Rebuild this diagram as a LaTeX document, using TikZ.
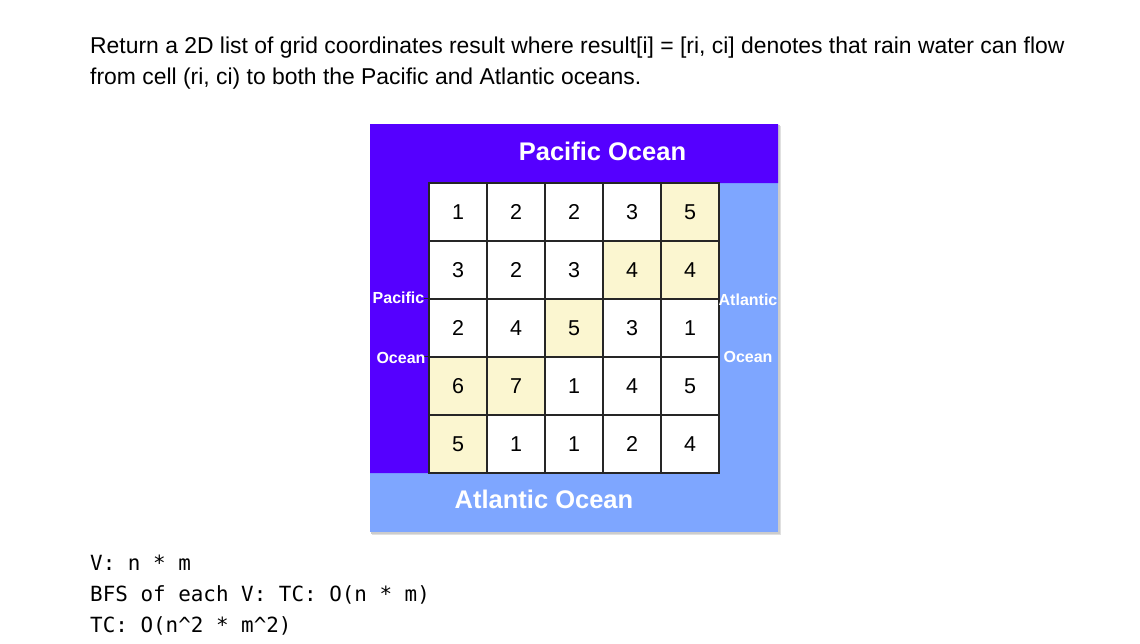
\documentclass[tikz,border=0pt]{standalone}
\usepackage{fontspec}
\setmainfont{Liberation Sans}
\newfontfamily\monof{DejaVu Sans Mono}
\definecolor{pac}{HTML}{5500FF}
\definecolor{atl}{HTML}{7EA6FF}
\definecolor{hl}{HTML}{FBF6D0}
\begin{document}
\begin{tikzpicture}[x=1pt,y=-1pt,
  cell/.style={draw=black!85, line width=1.4pt, minimum size=58pt, inner sep=0pt},
  hlcell/.style={cell, fill=hl},
  plaincell/.style={cell, fill=white},
  num/.style={inner sep=0pt, font=\fontsize{21.5}{22}\selectfont},
  big/.style={text=white, inner sep=0pt, font=\bfseries\fontsize{25.5}{26}\selectfont},
  small/.style={text=white, inner sep=0pt, font=\bfseries\fontsize{16}{16}\selectfont},
  prose/.style={anchor=base west, inner sep=0pt, font=\fontsize{22.9}{24}\selectfont},
  code/.style={anchor=base west, inner sep=0pt, font=\monof\fontsize{20.9}{24}\selectfont},
  tick/.style={draw=black!85, line width=1.4pt}]
\useasboundingbox[fill=white] (0,0) rectangle (1140,643);
% text
\node[prose] (t1) at (90,53) {Return a 2D list of grid coordinates result where result[i] = [ri, ci] denotes that rain water can flow};
\node[prose] (t2) at (90,84) {from cell (ri, ci) to both the Pacific and Atlantic oceans.};
% oceans
\fill[black!12] (372,126) rectangle (781,535);
\fill[black!20] (371,125) rectangle (779.5,533.5);
\fill[atl] (370,124) rectangle (778,532);
\fill[pac] (370,124) -- (778,124) -- (778,183) -- (429,183) -- (429,473) -- (370,473) -- cycle;
% grid
\foreach \r/\row in {1/{0,0,0,0,1},2/{0,0,0,1,1},3/{0,0,1,0,0},4/{1,1,0,0,0},5/{1,0,0,0,0}}{
  \foreach \h [count=\c] in \row {
    \ifnum\h=1 \def\sty{hlcell}\else\def\sty{plaincell}\fi
    \node[\sty] (c-\r-\c) at ({458+58*(\c-1)},{212+58*(\r-1)}) {};
  }
}
\foreach \r/\vals in {1/{1,2,2,3,5},2/{3,2,3,4,4},3/{2,4,5,3,1},4/{6,7,1,4,5},5/{5,1,1,2,4}}{
  \foreach \v [count=\c] in \vals {
    \node[num] at (c-\r-\c) {\v};
  }
}
\draw[tick] (c-3-1.north west) -- ++(-4,0);
\draw[tick] (c-4-1.north west) -- ++(-4,0);
% labels
\node[big] (po) at (602.5,151) {Pacific Ocean};
\node[big] (ao) at (544,499) {Atlantic Ocean};
\node[small] (pl1) at (398.5,298) {Pacific};
\node[small] (pl2) at (401,358) {Ocean};
\node[small] (al1) at (748,300) {Atlantic};
\node[small] (al2) at (748,357) {Ocean};
% complexity
\node[code] (v1) at (90,570) {V: n * m};
\node[code] (v2) at (90,601) {BFS of each V: TC: O(n * m)};
\node[code] (v3) at (90,632) {TC: O(n\string^2 * m\string^2)};
\end{tikzpicture}
\end{document}
